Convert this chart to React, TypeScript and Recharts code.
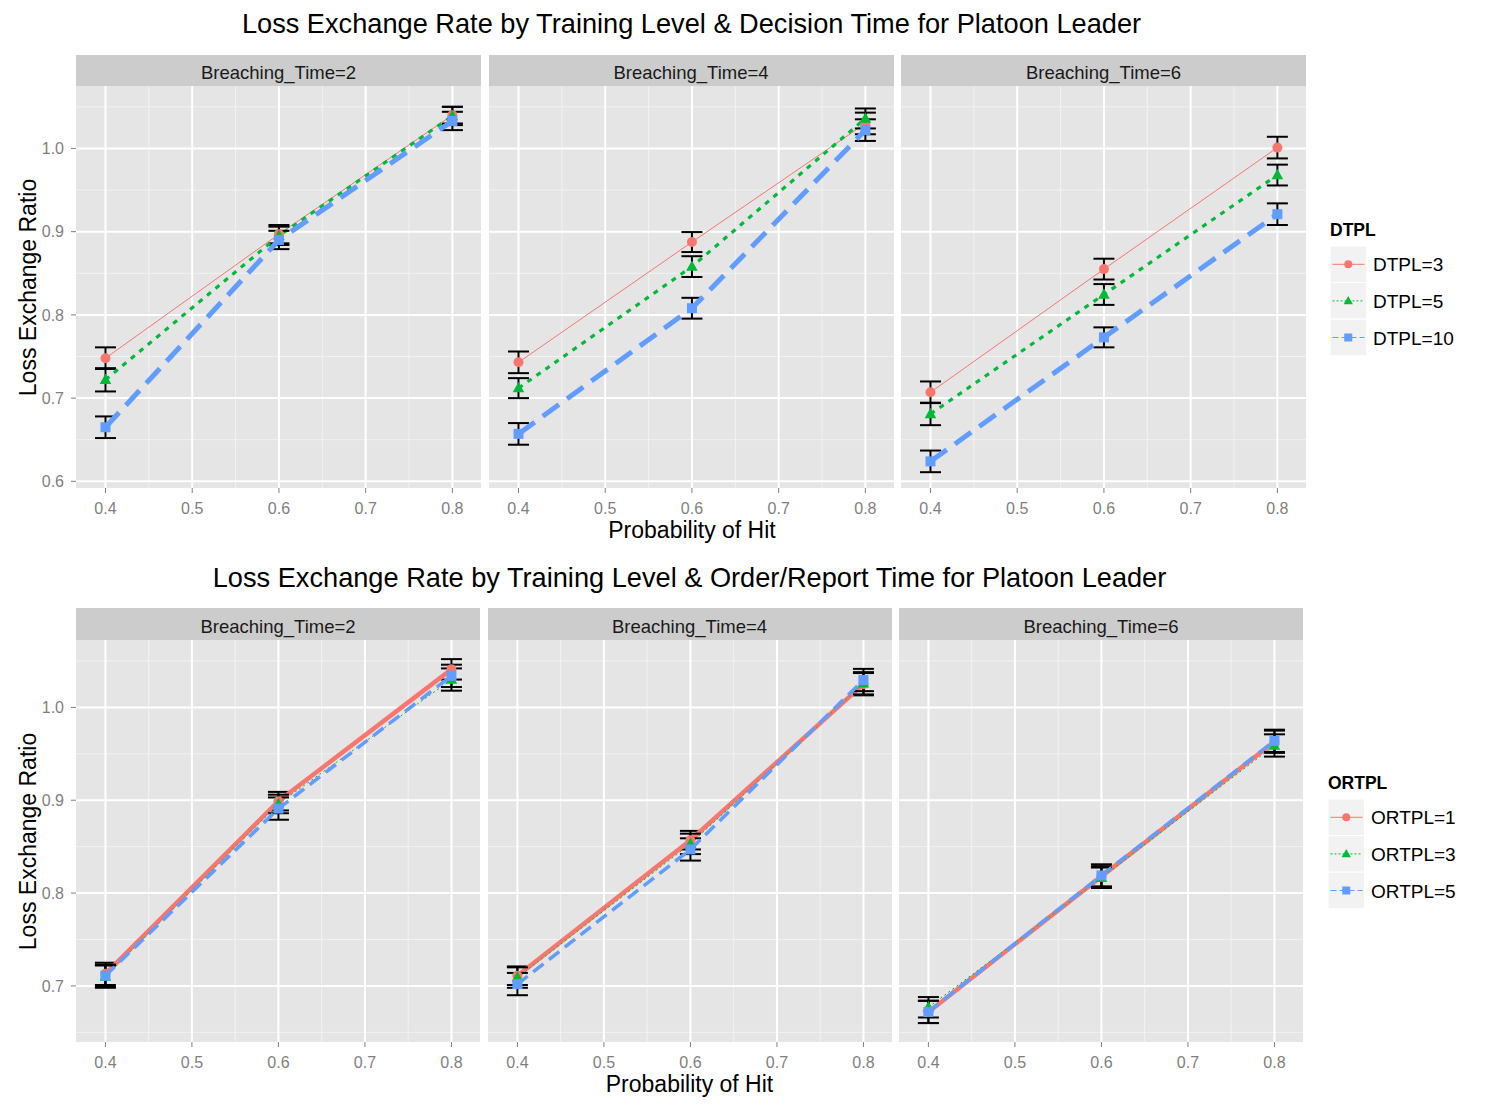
import { LineChart, Line, XAxis, YAxis, CartesianGrid, ErrorBar } from 'recharts'

const probHit = [0.4, 0.6, 0.8]
const breachingTimes = [2, 4, 6]
const xTicks = [0.4, 0.5, 0.6, 0.7, 0.8]
const xMinor = [0.45, 0.55, 0.65, 0.75]

const topTitle = 'Loss Exchange Rate by Training Level & Decision Time for Platoon Leader'
const bottomTitle = 'Loss Exchange Rate by Training Level & Order/Report Time for Platoon Leader'
const yTitle = 'Loss Exchange Ratio'
const xTitle = 'Probability of Hit'

// decision time (top chart)
const dtplName = 'DTPL'
const dtplLevels = ['DTPL=3', 'DTPL=5', 'DTPL=10']
// rows: Breaching_Time 2, 4, 6 / columns: probability of hit 0.4, 0.6, 0.8
const dtpl3Mean = [[0.748, 0.897, 1.040], [0.743, 0.8875, 1.030], [0.707, 0.855, 1.001]]
const dtpl5Mean = [[0.722, 0.895, 1.039], [0.712, 0.858, 1.036], [0.681, 0.8245, 0.968]]
const dtpl10Mean = [[0.665, 0.890, 1.033], [0.657, 0.808, 1.022], [0.624, 0.773, 0.921]]
const dtpl3Err = [[0.013, 0.011, 0.010], [0.013, 0.012, 0.013], [0.013, 0.0125, 0.013]]
const dtpl5Err = [[0.014, 0.011, 0.011], [0.012, 0.0125, 0.012], [0.0135, 0.0125, 0.0125]]
const dtpl10Err = [[0.013, 0.011, 0.011], [0.013, 0.0125, 0.013], [0.013, 0.012, 0.013]]

// order/report time (bottom chart)
const ortplName = 'ORTPL'
const ortplLevels = ['ORTPL=1', 'ORTPL=3', 'ORTPL=5']
const ortpl1Mean = [[0.713, 0.899, 1.041], [0.711, 0.857, 1.025], [0.672, 0.818, 0.963]]
const ortpl3Mean = [[0.710, 0.896, 1.030], [0.709, 0.853, 1.026], [0.677, 0.8165, 0.959]]
const ortpl5Mean = [[0.711, 0.891, 1.034], [0.702, 0.847, 1.0295], [0.672, 0.819, 0.964]]
const ortpl1Err = [[0.012, 0.010, 0.011], [0.010, 0.010, 0.012], [0.012, 0.011, 0.012]]
const ortpl3Err = [[0.012, 0.010, 0.012], [0.011, 0.011, 0.012], [0.011, 0.011, 0.012]]
const ortpl5Err = [[0.012, 0.012, 0.012], [0.012, 0.012, 0.012], [0.012, 0.012, 0.012]]

const COLORS = ['#F8766D', '#00BA38', '#619CFF']
const SHAPES = ['circle', 'triangle', 'square']
const FONT = '"Liberation Sans", Arial, sans-serif'

const topLines = [
  { width: 1, dash: undefined },
  { width: 3.2, dash: '5 6' },
  { width: 5, dash: '20 10' },
]
const bottomLines = [
  { width: 4.5, dash: undefined },
  { width: 1, dash: '2 3' },
  { width: 3.5, dash: '13 7' },
]
const legendLines = [undefined, '2 2', '6 3']

function shapeEl(shape: string, color: string, cx: number, cy: number, s: number, key?: string) {
  if (shape === 'circle') return <circle key={key} cx={cx} cy={cy} r={s * 0.5} fill={color} />
  if (shape === 'triangle')
    return (
      <polygon
        key={key}
        points={`${cx},${cy - s * 0.62} ${cx - s * 0.58},${cy + s * 0.42} ${cx + s * 0.58},${cy + s * 0.42}`}
        fill={color}
      />
    )
  return <rect key={key} x={cx - s / 2} y={cy - s / 2} width={s} height={s} fill={color} />
}

function makeDot(shape: string, color: string) {
  return (props: any) => {
    const { cx, cy, index } = props
    if (cx == null || cy == null) return <g key={`n${index}`} />
    return shapeEl(shape, color, cx, cy, 10, `d${index}`)
  }
}

type PanelProps = {
  left: number
  top: number
  width: number
  height: number
  rows: Record<string, number>[]
  lines: { width: number; dash?: string }[]
  yDomain: number[]
  yTicks: number[]
  yMinor: number[]
  showY: boolean
  strip: string
  stripH: number
}

function Panel(p: PanelProps) {
  const chartLeft = p.showY ? 0 : p.left
  const chartW = p.showY ? p.left + p.width : p.width
  return (
    <>
      <div
        style={{
          position: 'absolute', left: p.left, top: p.top - p.stripH, width: p.width, height: p.stripH,
          background: '#CCCCCC', color: '#1A1A1A', fontFamily: FONT, fontSize: 18.5,
          lineHeight: `${p.stripH + 5}px`, textAlign: 'center', overflow: 'hidden',
        }}
      >
        {p.strip}
      </div>
      <div style={{ position: 'absolute', left: chartLeft, top: p.top }}>
        <LineChart width={chartW} height={p.height + 34} data={p.rows} margin={{ top: 0, right: 0, bottom: 0, left: 0 }}>
          <CartesianGrid
            fill="#E5E5E5"
            fillOpacity={1}
            stroke="#F2F2F2"
            strokeWidth={1}
            horizontalValues={p.yMinor}
            verticalValues={xMinor}
          />
          <CartesianGrid
            stroke="#FFFFFF"
            strokeWidth={2}
            horizontalValues={p.yTicks}
            verticalValues={xTicks}
          />
          <XAxis
            dataKey="x"
            type="number"
            domain={[0.366, 0.833]}
            allowDataOverflow
            ticks={xTicks}
            tickFormatter={(v: number) => v.toFixed(1)}
            height={34}
            axisLine={false}
            tickSize={5}
            tickMargin={10}
            tickLine={{ stroke: '#7F7F7F' }}
            tick={{ fill: '#7F7F7F', fontSize: 16, fontFamily: FONT }}
          />
          <YAxis
            type="number"
            domain={p.yDomain}
            allowDataOverflow
            ticks={p.yTicks}
            hide={!p.showY}
            width={p.showY ? p.left : 0}
            tickFormatter={(v: number) => v.toFixed(1)}
            axisLine={false}
            tickSize={5}
            tickMargin={7}
            tickLine={{ stroke: '#7F7F7F' }}
            tick={{ fill: '#7F7F7F', fontSize: 16, fontFamily: FONT }}
          />
          {[0, 1, 2].map((i) => (
            <Line
              key={i}
              type="linear"
              dataKey={`s${i}`}
              stroke={COLORS[i]}
              strokeWidth={p.lines[i].width}
              strokeDasharray={p.lines[i].dash}
              dot={makeDot(SHAPES[i], COLORS[i])}
              activeDot={false}
              isAnimationActive={false}
            >
              <ErrorBar dataKey={`e${i}`} direction="y" width={10.5} stroke="#000000" strokeWidth={2} isAnimationActive={false} />
            </Line>
          ))}
        </LineChart>
      </div>
    </>
  )
}

function buildRows(means: number[][][], errs: number[][][], panel: number) {
  return probHit.map((x, j) => {
    const row: Record<string, number> = { x }
    means.forEach((m, i) => {
      row[`s${i}`] = m[panel][j]
      row[`e${i}`] = errs[i][panel][j]
    })
    return row
  })
}

function Legend({ left, top, title, labels }: { left: number; top: number; title: string; labels: string[] }) {
  const keyW = 36.5
  const keyH = 36.6
  return (
    <svg style={{ position: 'absolute', left, top }} width={160} height={150}>
      <text x={0} y={20} fontFamily={FONT} fontSize={17.5} fontWeight="bold" fill="#000">{title}</text>
      {labels.map((lab, i) => {
        const y0 = 30 + i * keyH
        const cy = y0 + keyH / 2
        return (
          <g key={lab}>
            <rect x={0} y={y0} width={keyW} height={keyH} fill="#F2F2F2" stroke="#FFFFFF" strokeWidth={1} />
            <line x1={2.5} x2={keyW - 2} y1={cy} y2={cy} stroke={COLORS[i]} strokeWidth={1} strokeDasharray={legendLines[i]} />
            {shapeEl(SHAPES[i], COLORS[i], keyW / 2, cy, 8)}
            <text x={keyW + 6.5} y={cy + 7} fontFamily={FONT} fontSize={19} fill="#000">{lab}</text>
          </g>
        )
      })}
    </svg>
  )
}

function Text({ x, y, size, children, rotate }: { x: number; y: number; size: number; children: string; rotate?: boolean }) {
  const w = 1200
  return (
    <div
      style={{
        position: 'absolute', left: x - w / 2, top: y - size / 2, width: w, height: size,
        lineHeight: `${size}px`, fontSize: size, fontFamily: FONT, color: '#000', textAlign: 'center',
        whiteSpace: 'nowrap', transform: rotate ? 'rotate(-90deg)' : undefined,
      }}
    >
      {children}
    </div>
  )
}

export default function App() {
  const topMeans = [dtpl3Mean, dtpl5Mean, dtpl10Mean]
  const topErrs = [dtpl3Err, dtpl5Err, dtpl10Err]
  const botMeans = [ortpl1Mean, ortpl3Mean, ortpl5Mean]
  const botErrs = [ortpl1Err, ortpl3Err, ortpl5Err]
  const topLefts = [76, 488.5, 901]
  const botLefts = [76, 487.5, 899]
  return (
    <div style={{ position: 'absolute', left: 0, top: 0, width: 1500, height: 1107, background: '#FFFFFF', overflow: 'hidden' }}>
      <Text x={691.5} y={24} size={27.2}>{topTitle}</Text>
      {breachingTimes.map((bt, k) => (
        <Panel
          key={`t${bt}`}
          left={topLefts[k]}
          top={86}
          width={405}
          height={402}
          rows={buildRows(topMeans, topErrs, k)}
          lines={topLines}
          yDomain={[0.592, 1.075]}
          yTicks={[0.6, 0.7, 0.8, 0.9, 1.0]}
          yMinor={[0.65, 0.75, 0.85, 0.95, 1.05]}
          showY={k === 0}
          strip={`Breaching_Time=${bt}`}
          stripH={31}
        />
      ))}
      <Text x={692} y={530} size={23}>{xTitle}</Text>
      <Text x={28} y={287} size={23} rotate>{yTitle}</Text>
      <Legend left={1330} top={216} title={dtplName} labels={dtplLevels} />

      <Text x={689.5} y={578} size={27.2}>{bottomTitle}</Text>
      {breachingTimes.map((bt, k) => (
        <Panel
          key={`b${bt}`}
          left={botLefts[k]}
          top={640}
          width={404}
          height={402}
          rows={buildRows(botMeans, botErrs, k)}
          lines={bottomLines}
          yDomain={[0.6396, 1.0726]}
          yTicks={[0.7, 0.8, 0.9, 1.0]}
          yMinor={[0.65, 0.75, 0.85, 0.95, 1.05]}
          showY={k === 0}
          strip={`Breaching_Time=${bt}`}
          stripH={32}
        />
      ))}
      <Text x={689.5} y={1084} size={23}>{xTitle}</Text>
      <Text x={28} y={841} size={23} rotate>{yTitle}</Text>
      <Legend left={1328} top={769} title={ortplName} labels={ortplLevels} />
    </div>
  )
}
